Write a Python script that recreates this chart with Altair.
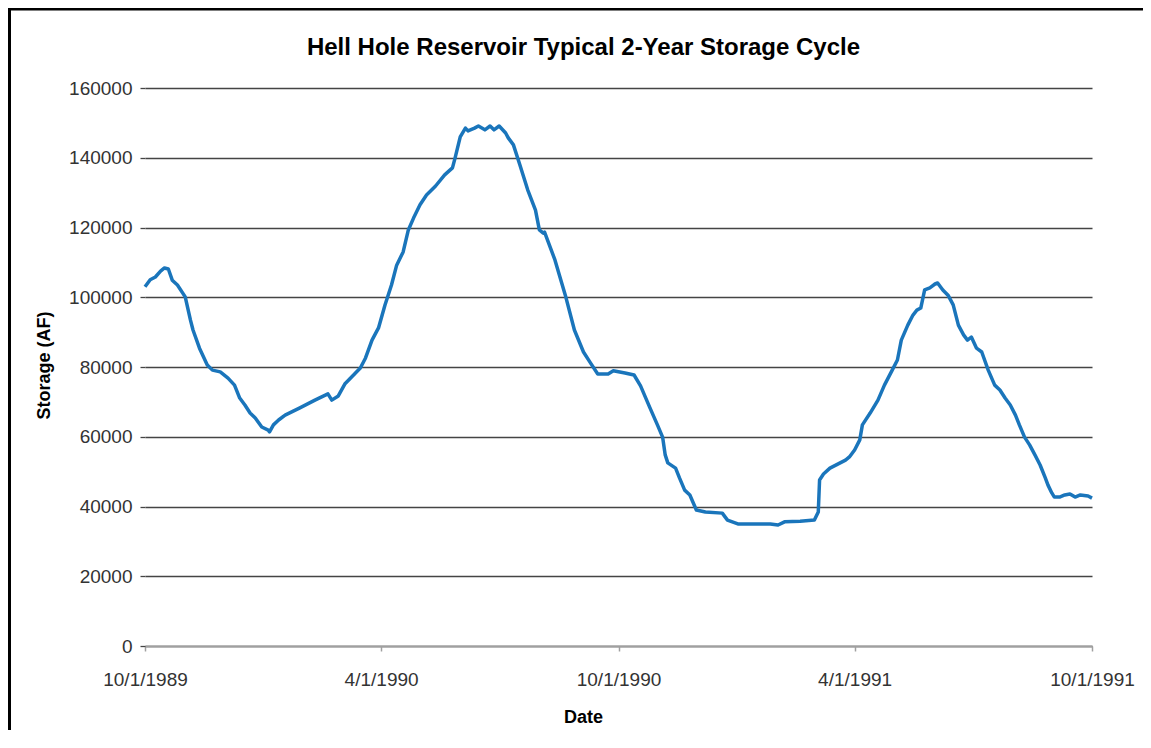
import altair as alt
import pandas as pd

# Day offsets from 10/1/1989 and storage values (acre-feet)
days = [0, 4, 8, 12, 15, 18, 21, 25, 31, 35, 37, 42, 48, 52, 58, 64, 69, 73, 77, 81,
        85, 90, 95, 96, 99, 103, 108, 119, 131, 141, 144, 149, 154, 160, 166, 170, 175, 180, 185, 190,
        194, 199, 203, 207, 212, 217, 224, 231, 237, 239, 243, 247, 249, 254, 257, 262, 266, 269, 273, 278,
        280, 284, 289, 295, 301, 304, 307, 308, 316, 324, 331, 338, 343, 349, 357, 361, 370, 377, 382, 389,
        395, 399, 401, 403, 409, 412, 416, 420, 425, 432, 445, 449, 457, 482, 488, 493, 505, 516, 519, 520,
        523, 528, 540, 543, 547, 551, 553, 559, 565, 570, 576, 580, 583, 588, 592, 595, 598, 601, 605, 609,
        611, 615, 619, 623, 627, 631, 634, 637, 641, 645, 650, 655, 659, 663, 667, 671, 674, 678, 682, 686,
        690, 694, 696, 699, 701, 705, 709, 713, 717, 721, 727, 730]
storage = [103000, 105000, 105800, 107500, 108400, 108100, 104900, 103500, 100100, 93500, 90600, 85400, 80600, 79100, 78600, 76800, 74800, 71100, 69100, 66800,
           65400, 62800, 61900, 61400, 63400, 64800, 66200, 68200, 70500, 72300, 70500, 71700, 75100, 77400, 79700, 82600, 87700, 91200, 97800, 103500,
           109200, 113000, 119300, 122700, 126500, 129300, 131900, 135100, 137100, 139900, 146000, 148500, 147700, 148500, 149100, 148000, 149100, 148000, 149100, 147100,
           145700, 143700, 137900, 130800, 125000, 119300, 118400, 118700, 110700, 100600, 90600, 84300, 81400, 78000, 78000, 78900, 78300, 77700, 74600, 68500,
           63400, 59900, 54800, 52500, 51000, 48200, 44700, 43300, 39000, 38400, 38100, 36100, 35000, 35000, 34700, 35600, 35800, 36100, 38400, 47600,
           49300, 51000, 53300, 54200, 56200, 59100, 63400, 66800, 70500, 74800, 79100, 82000, 87700, 92000, 94900, 96300, 96900, 102100, 102700, 103800,
           104100, 102100, 100600, 97800, 92000, 89200, 87700, 88600, 85400, 84300, 79100, 74800, 73400, 71100, 69100, 66200, 63400, 59900, 57600, 54800,
           51900, 48200, 46200, 43900, 42700, 42700, 43300, 43600, 42700, 43300, 43000, 42400]

tick_dates = ["1989-10-01", "1990-04-01", "1990-10-01", "1991-04-01", "1991-10-01"]
tick_labels = ["10/1/1989", "4/1/1990", "10/1/1990", "4/1/1991", "10/1/1991"]
y_ticks = [0, 20000, 40000, 60000, 80000, 100000, 120000, 140000, 160000]

start = pd.Timestamp("1989-10-01")
df = pd.DataFrame({
    "date": [(start + pd.Timedelta(days=d)).strftime("%Y-%m-%d") for d in days],
    "storage": storage,
})

FONT = "Liberation Sans"

label_map = "{" + ", ".join(
    f"'{d}': '{l}'" for d, l in zip(tick_dates, tick_labels)) + "}"

x_enc = alt.X(
    "date:T",
    scale=alt.Scale(type="utc",
                    domain=[alt.DateTime(year=1989, month=10, date=1, utc=True),
                            alt.DateTime(year=1991, month=10, date=1, utc=True)]),
    axis=alt.Axis(
        values=[alt.DateTime(year=int(d[:4]), month=int(d[5:7]), date=int(d[8:]), utc=True)
                for d in tick_dates],
        labelExpr=f"{label_map}[utcFormat(datum.value, '%Y-%m-%d')]",
        title="Date",
        titleFont=FONT, titleFontSize=18, titleFontWeight="bold", titleColor="#000",
        titleX=438, titleY=76, titleBaseline="alphabetic", titleAnchor="start", titleAlign="center",
        labelFont=FONT, labelFontSize=19, labelColor="#333", labelPadding=19,
        labelFlush=False, labelOverlap=False,
        domainColor="#a0a0a0", domainWidth=2,
        tickColor="#a0a0a0", tickSize=5, tickWidth=1.5,
        grid=False,
    ),
)

y_enc = alt.Y(
    "storage:Q",
    scale=alt.Scale(domain=[0, 160000], nice=False, zero=True),
    axis=alt.Axis(
        values=y_ticks, format="d",
        title="Storage (AF)",
        titleFont=FONT, titleFontSize=18, titleFontWeight="bold", titleColor="#000",
        titleX=-92, titleY=277, titleAnchor="start", titleAlign="center", titleBaseline="bottom",
        labelFont=FONT, labelFontSize=19, labelColor="#333", labelPadding=8,
        domain=False, tickColor="#444", tickSize=5, tickWidth=1.3,
        grid=True, gridColor="#444", gridWidth=1.3,
    ),
)

line = alt.Chart(df).mark_line(color="#1a75bb", strokeWidth=3.5, strokeJoin="round").encode(
    x=x_enc, y=y_enc
)

frame_df = pd.DataFrame({"k": [0]})
frame_top = alt.Chart(frame_df).mark_rule(color="#000", strokeWidth=3).encode(
    x=alt.value(-137), x2=alt.value(1000), y=alt.value(-79)
)
frame_left = alt.Chart(frame_df).mark_rule(color="#000", strokeWidth=3).encode(
    x=alt.value(-135.5), y=alt.value(-80), y2=alt.value(700)
)

chart = alt.layer(line, frame_top, frame_left).properties(
    width=947,
    height=558,
    title=alt.TitleParams(
        "Hell Hole Reservoir Typical 2-Year Storage Cycle",
        font=FONT, fontSize=24, fontWeight="bold", color="#000",
        anchor="middle", frame="group", dx=-35, offset=0, dy=72.5, baseline="alphabetic",
    ),
    autosize=alt.AutoSizeParams(type="none"),
    padding={"left": 137, "top": 80, "right": 51, "bottom": 84},
    background="#ffffff",
).configure_view(stroke=None)

chart.save("out.html", embed_options={"renderer": "svg", "actions": False})
